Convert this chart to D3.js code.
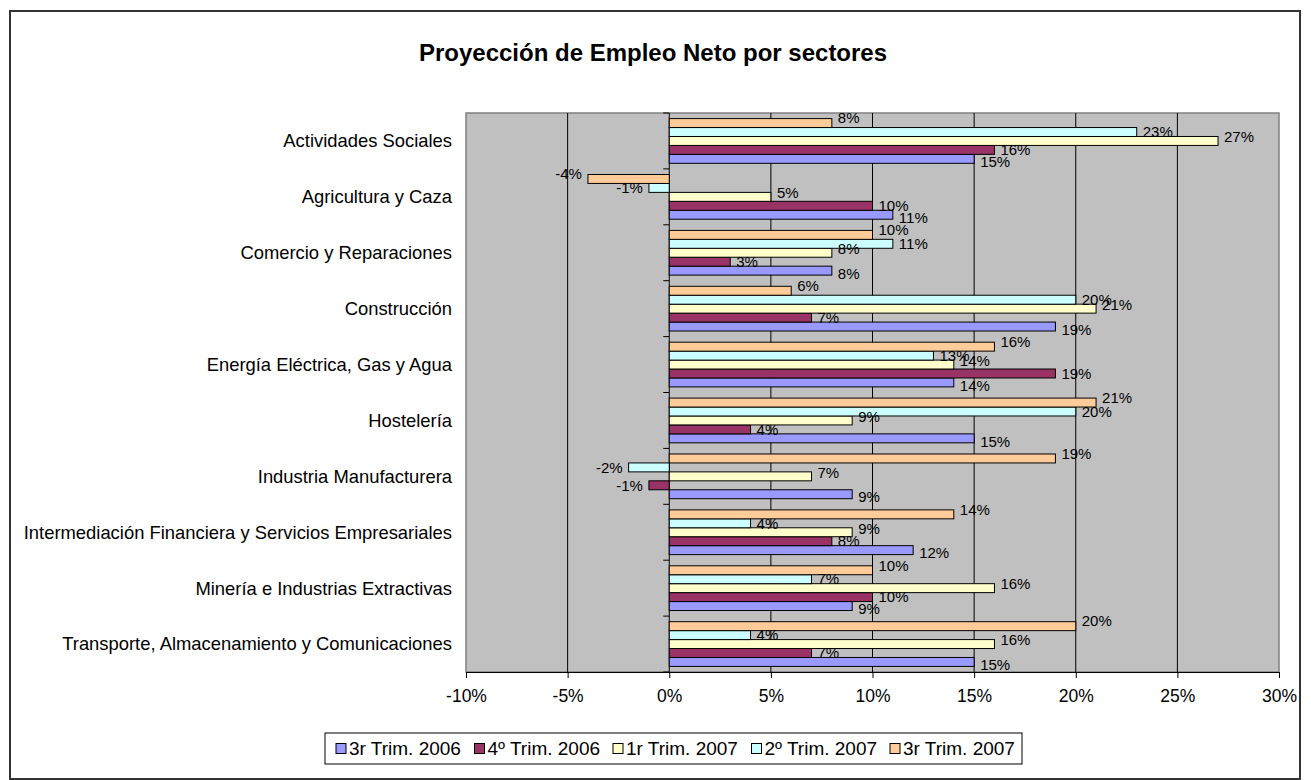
<!DOCTYPE html>
<html><head><meta charset="utf-8">
<script src="https://cdn.jsdelivr.net/npm/d3@7"></script>
<style>body{margin:0;background:#fff}svg{display:block;font-family:"Liberation Sans",Arial,sans-serif}</style>
</head><body><svg id="c" width="1311" height="780"></svg>
<script>
const categories = ["Actividades Sociales","Agricultura y Caza","Comercio y Reparaciones","Construcción","Energía Eléctrica, Gas y Agua","Hostelería","Industria Manufacturera","Intermediación Financiera y Servicios Empresariales","Minería e Industrias Extractivas","Transporte, Almacenamiento y Comunicaciones"];
const seriesNames = ["3r Trim. 2006","4º Trim. 2006","1r Trim. 2007","2º Trim. 2007","3r Trim. 2007"];
const s3T2006 = [15, 11, 8, 19, 14, 15, 9, 12, 9, 15];
const s4T2006 = [16, 10, 3, 7, 19, 4, -1, 8, 10, 7];
const s1T2007 = [27, 5, 8, 21, 14, 9, 7, 9, 16, 16];
const s2T2007 = [23, -1, 11, 20, 13, 20, -2, 4, 7, 4];
const s3T2007 = [8, -4, 10, 6, 16, 21, 19, 14, 10, 20];
const xTicks = [-10, -5, 0, 5, 10, 15, 20, 25, 30];
const colors = ["#9999FF","#993366","#FFFFCC","#CCFFFF","#FFCC99"];
const labelDy = [3, 0, -4, 0, -5];

const series = [s3T2006, s4T2006, s1T2007, s2T2007, s3T2007];
const svg = d3.select("#c");

// outer border
svg.append("rect").attr("x",10).attr("y",11).attr("width",1290).attr("height",768)
  .attr("fill","#fff").attr("stroke","#333").attr("stroke-width",2);

// title
svg.append("text").attr("x",653).attr("y",61).attr("text-anchor","middle")
  .attr("font-size",24).attr("font-weight","bold").text("Proyección de Empleo Neto por sectores");

const L=466, R=1279, T=113, B=672;
const x = d3.scaleLinear().domain([-10,30]).range([L,R]);
const y0 = d3.scaleBand().domain(categories).range([T,B]).paddingInner(0.2).paddingOuter(0.1);
const y1 = d3.scaleBand().domain(d3.range(5).reverse()).range([0,y0.bandwidth()]);

// plot area
svg.append("rect").attr("x",L).attr("y",T).attr("width",R-L).attr("height",B-T)
  .attr("fill","#C0C0C0").attr("stroke","#808080").attr("stroke-width",1.5);

// gridlines
svg.append("g").selectAll("line").data(xTicks.filter(d=>d>-10&&d<30&&d!==0)).join("line")
  .attr("x1",d=>x(d)).attr("x2",d=>x(d)).attr("y1",T).attr("y2",B)
  .attr("stroke","#000").attr("stroke-width",1);

// x axis
const xAxis = d3.axisBottom(x).tickValues(xTicks).tickFormat(d=>d+"%").tickSize(6).tickPadding(12);
const gx = svg.append("g").attr("transform",`translate(0,${B})`).call(xAxis);
gx.select(".domain").attr("stroke","#000");
gx.selectAll(".tick line").attr("stroke","#000");
gx.selectAll("text").attr("font-size",17.5).attr("fill","#000").attr("font-family","Liberation Sans, Arial, sans-serif");

// category axis line at zero with ticks
const catBounds = d3.range(categories.length+1).map(i=>T + i*y0.step());
svg.append("line").attr("x1",x(0)).attr("x2",x(0)).attr("y1",T).attr("y2",B).attr("stroke","#000");
svg.append("g").selectAll("line").data(catBounds).join("line")
  .attr("x1",x(0)-6).attr("x2",x(0)).attr("y1",d=>d).attr("y2",d=>d).attr("stroke","#000");

// category labels
svg.append("g").selectAll("text").data(categories).join("text")
  .attr("x",452).attr("y",d=>y0(d)+y0.bandwidth()/2).attr("dy","0.35em")
  .attr("text-anchor","end").attr("font-size",18.4).text(d=>d);

// bars
const bars = [];
categories.forEach((c,ci)=>series.forEach((s,si)=>bars.push({c,si,v:s[ci]})));
svg.append("g").selectAll("rect").data(bars).join("rect")
  .attr("x",d=>x(Math.min(0,d.v))).attr("width",d=>Math.abs(x(d.v)-x(0)))
  .attr("y",d=>y0(d.c)+y1(d.si)).attr("height",y1.bandwidth())
  .attr("fill",d=>colors[d.si]).attr("stroke","#000").attr("stroke-width",1);

// value labels
svg.append("g").selectAll("text").data(bars).join("text")
  .attr("x",d=>d.v>=0 ? x(d.v)+6 : x(d.v)-6)
  .attr("y",d=>y0(d.c)+y1(d.si)+y1.bandwidth()/2+labelDy[d.si]).attr("dy","0.35em")
  .attr("text-anchor",d=>d.v>=0?"start":"end").attr("font-size",15).text(d=>d.v+"%");

// legend
const lg = svg.append("g");
lg.append("rect").attr("x",325).attr("y",733).attr("width",697).attr("height",31)
  .attr("fill","#fff").attr("stroke","#000").attr("stroke-width",1);
const lx = d3.scalePoint().domain(d3.range(5)).range([336,890]);
const items = lg.selectAll("g").data(seriesNames).join("g")
  .attr("transform",(d,i)=>`translate(${lx(i)},748.5)`);
items.append("rect").attr("x",0).attr("y",-5).attr("width",10).attr("height",10)
  .attr("fill",(d,i)=>colors[i]).attr("stroke","#000");
items.append("text").attr("x",13).attr("dy","0.35em").attr("font-size",19).text(d=>d);
</script></body></html>
